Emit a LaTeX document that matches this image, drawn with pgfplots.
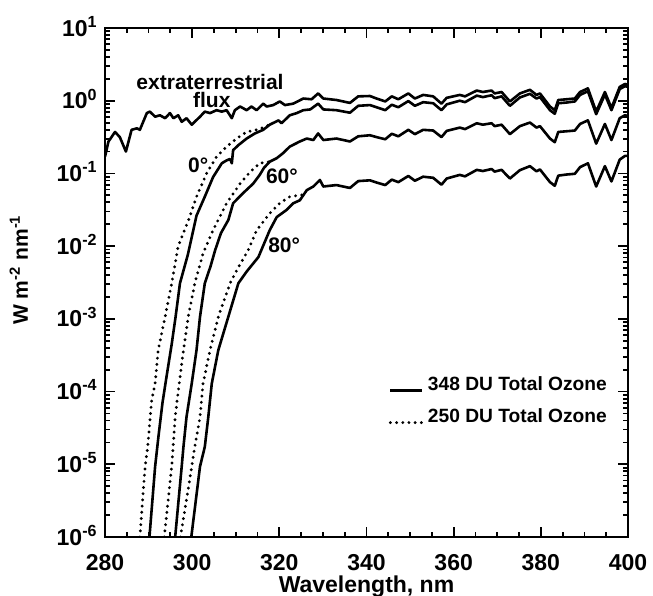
\documentclass[border=0pt]{standalone}
\usepackage{fontspec}
\setmainfont{Liberation Sans}
\usepackage{pgfplots}
\pgfplotsset{compat=1.18}
\begin{document}
\fontsize{10.5}{12.5}\selectfont\bfseries
\begin{tikzpicture}
\tikzset{
  sol/.style={black, line width=1.3pt, line join=round},
  dot/.style={black, line width=1.6pt, line cap=round, dash pattern=on 0pt off 3.1pt},
}
\path[use as bounding box] (-52.5pt,-29pt) rectangle (274pt,268.5pt);
\begin{axis}[
  at={(0,0)}, anchor=south west,
  scale only axis, width=261.5pt, height=254.5pt,
  xmin=280, xmax=400, ymode=log, ymin=1e-6, ymax=10,
  xtick={280,300,...,400},
  xticklabels={280,300,320,340,360,380,400},
  minor x tick num=3,
  ytick={1e-6,1e-5,1e-4,1e-3,1e-2,1e-1,1,10},
  yticklabels={10\textsuperscript{-6},10\textsuperscript{-5},10\textsuperscript{-4},10\textsuperscript{-3},10\textsuperscript{-2},10\textsuperscript{-1},10\textsuperscript{0},10\textsuperscript{1}},
  /pgf/number format/assume math mode=true,
  tick label style={font=\bfseries\fontsize{11.5}{13}\selectfont},
  tick align=inside, tick pos=both,
  major tick length=5pt, minor tick length=2.5pt,
  every tick/.style={black, line width=0.9pt},
  axis line style={line width=1.2pt},
  xticklabel style={yshift=-5pt},
  yticklabel style={anchor=base east, yshift=-4pt},
  xlabel={Wavelength, nm},
  ylabel={W m\textsuperscript{-2} nm\textsuperscript{-1}},
  xlabel style={at={(axis description cs:0.5,-0.098)}, anchor=center, font=\bfseries\fontsize{11.5}{13}\selectfont},
  ylabel style={at={(axis description cs:-0.165,0.525)}, anchor=center, font=\bfseries\fontsize{10.5}{12}\selectfont},
  legend style={draw=none, fill=none, at={(0.968,0.323)}, anchor=north east, row sep=3.5pt, inner sep=0pt, font=\bfseries\fontsize{9.6}{12}\selectfont},
  legend cell align=left,
  legend image code/.code={\draw[#1] (0pt,-2.5pt) -- (16pt,-2.5pt);},
]
% extraterrestrial flux
\addplot[sol, forget plot] table {
280.0 0.170
280.8 0.275
282.3 0.372
283.4 0.316
284.8 0.200
286.1 0.398
287.3 0.417
288.0 0.398
289.6 0.676
290.3 0.708
291.5 0.603
292.6 0.631
293.8 0.575
294.9 0.676
295.7 0.575
296.8 0.631
297.6 0.513
298.7 0.575
299.9 0.468
301.8 0.603
302.9 0.708
304.1 0.676
305.6 0.741
306.8 0.708
307.9 0.741
309.1 0.575
309.8 0.741
311.0 0.832
312.5 0.741
313.6 0.832
314.8 0.741
316.3 0.912
317.1 0.832
318.6 0.871
320.1 0.977
321.3 0.871
323.2 0.912
325.5 1.072
327.4 1.047
328.9 1.259
330.1 1.072
333.1 1.023
336.2 0.933
338.1 1.148
340.8 1.161
342.3 1.072
344.3 0.977
345.8 1.148
347.3 1.047
349.6 1.259
351.1 1.072
353.0 1.202
355.3 1.148
357.2 0.912
358.4 1.096
361.4 1.202
362.6 1.148
365.3 1.380
366.7 1.318
368.7 1.380
369.4 1.259
371.0 1.318
372.9 0.977
375.2 1.259
377.5 1.413
379.0 1.202
379.8 1.259
382.1 0.832
383.2 0.741
384.0 1.023
385.9 1.047
387.8 1.072
389.0 1.318
390.8 1.479
392.7 0.708
394.7 1.318
396.2 0.794
398.1 1.549
399.3 1.698
400.0 1.660
};
% 0 deg, 348 DU
\addplot[sol, forget plot] table {
290.2 1e-6
291.5 9.33e-6
292.3 2.51e-5
293.2 7.08e-5
294.1 1.58e-4
295.3 4.47e-4
296.2 1.07e-3
297.2 3.09e-3
299.0 7.59e-3
301.0 0.0263
302.9 0.0479
304.8 0.0891
306.8 0.138
307.9 0.151
308.7 0.158
309.1 0.138
309.4 0.209
310.6 0.245
312.5 0.302
314.4 0.355
316.3 0.398
317.8 0.468
319.8 0.537
320.5 0.490
322.4 0.631
324.0 0.676
325.5 0.741
327.1 0.759
328.9 0.912
330.1 0.759
333.1 0.741
336.2 0.684
338.1 0.851
340.8 0.871
342.3 0.813
344.3 0.741
345.8 0.881
347.3 0.813
349.6 0.989
351.1 0.851
353.0 0.955
355.3 0.923
357.2 0.741
358.4 0.891
361.4 1.000
362.6 0.955
365.3 1.175
366.7 1.122
368.7 1.189
369.4 1.084
371.0 1.148
372.9 0.851
375.2 1.109
377.5 1.245
379.0 1.072
379.8 1.122
382.1 0.741
383.2 0.661
384.0 0.923
385.9 0.944
387.8 0.977
389.0 1.202
390.8 1.349
392.7 0.653
394.7 1.216
396.2 0.741
398.1 1.445
399.3 1.585
400.0 1.549
};
% 0 deg, 250 DU
\addplot[dot, forget plot] table {
288.0 1e-6
289.2 9.33e-6
289.8 1.74e-5
290.7 7.59e-5
291.5 1.29e-4
292.2 3.72e-4
293.8 1.07e-3
295.3 3.09e-3
296.8 0.0100
299.3 0.0240
301.0 0.0479
303.3 0.100
305.6 0.170
307.9 0.234
310.2 0.302
312.5 0.372
314.8 0.398
316.3 0.427
317.8 0.468
};
% 60 deg, 348 DU
\addplot[sol, forget plot] table {
296.1 1e-6
297.6 9.33e-6
298.0 1.74e-5
298.7 4.47e-5
299.9 1.29e-4
301.0 3.72e-4
301.8 1.07e-3
302.9 3.09e-3
304.2 5.25e-3
305.3 8.91e-3
306.6 0.0151
308.3 0.0229
309.4 0.0389
311.7 0.0537
314.0 0.0724
315.5 0.0955
316.5 0.120
317.8 0.145
319.4 0.162
320.9 0.191
322.4 0.234
324.7 0.275
326.3 0.302
327.8 0.288
328.9 0.355
330.1 0.288
333.1 0.302
336.2 0.275
338.1 0.324
340.8 0.335
342.3 0.316
344.3 0.295
345.8 0.351
347.3 0.324
349.6 0.398
351.1 0.347
353.0 0.398
355.3 0.389
357.2 0.316
358.4 0.385
361.4 0.427
362.6 0.407
365.3 0.490
366.7 0.468
368.7 0.490
369.4 0.447
371.0 0.468
372.9 0.347
375.2 0.447
377.5 0.501
379.0 0.427
379.8 0.447
382.1 0.302
383.2 0.269
384.0 0.372
385.9 0.380
387.8 0.389
389.0 0.479
390.8 0.537
392.7 0.257
394.7 0.479
396.2 0.288
398.1 0.575
399.3 0.631
400.0 0.617
};
% 60 deg, 250 DU
\addplot[dot, forget plot] table {
293.6 1e-6
295.3 9.33e-6
296.1 4.47e-5
296.8 1.00e-4
298.0 3.72e-4
299.1 1.07e-3
300.6 3.09e-3
302.5 7.94e-3
304.8 0.0166
307.9 0.0389
311.0 0.0724
313.3 0.105
315.5 0.138
317.8 0.145
};
% 80 deg, 348 DU
\addplot[sol, forget plot] table {
299.8 1e-6
301.8 9.33e-6
302.9 1.74e-5
303.7 4.47e-5
304.5 1.29e-4
306.0 3.72e-4
308.3 1.07e-3
310.6 3.09e-3
312.5 4.47e-3
315.2 7.08e-3
317.8 0.0166
319.4 0.0251
321.7 0.0316
323.2 0.0389
324.7 0.0427
326.3 0.0589
327.8 0.0661
329.3 0.0813
330.1 0.0661
333.1 0.0692
336.2 0.0631
338.1 0.0785
340.8 0.0804
342.3 0.0750
344.3 0.0692
345.8 0.0822
347.3 0.0759
349.6 0.0923
351.1 0.0794
353.0 0.0902
355.3 0.0871
357.2 0.0700
358.4 0.0851
361.4 0.0955
362.6 0.0912
365.3 0.112
366.7 0.108
368.7 0.115
369.4 0.106
371.0 0.112
372.9 0.0851
375.2 0.111
377.5 0.126
379.0 0.107
379.8 0.1135
382.1 0.0759
383.2 0.0676
384.0 0.0933
385.9 0.0966
387.8 0.0989
389.0 0.122
390.8 0.138
392.7 0.0661
394.7 0.126
396.2 0.0776
398.1 0.155
399.3 0.174
400.0 0.174
};
% 80 deg, 250 DU
\addplot[dot, forget plot] table {
297.3 1e-6
299.2 5.01e-6
300.6 1.74e-5
301.8 4.47e-5
302.5 1.29e-4
304.1 3.72e-4
306.0 1.07e-3
308.7 3.09e-3
310.5 5.01e-3
312.9 8.91e-3
314.8 0.0166
317.8 0.0282
320.1 0.0389
322.4 0.0479
325.5 0.0510
};
\addlegendimage{sol}
\addlegendentry{348 DU Total Ozone}
\addlegendimage{dot}
\addlegendentry{250 DU Total Ozone}
\node at (axis cs:304.1,1.81) {extraterrestrial};
\node at (axis cs:304.5,1.02) {flux};
\node at (axis cs:301.4,0.130) {0°};
\node at (axis cs:320.6,0.090) {60°};
\node at (axis cs:321.1,0.0104) {80°};
\end{axis}
\end{tikzpicture}
\end{document}
